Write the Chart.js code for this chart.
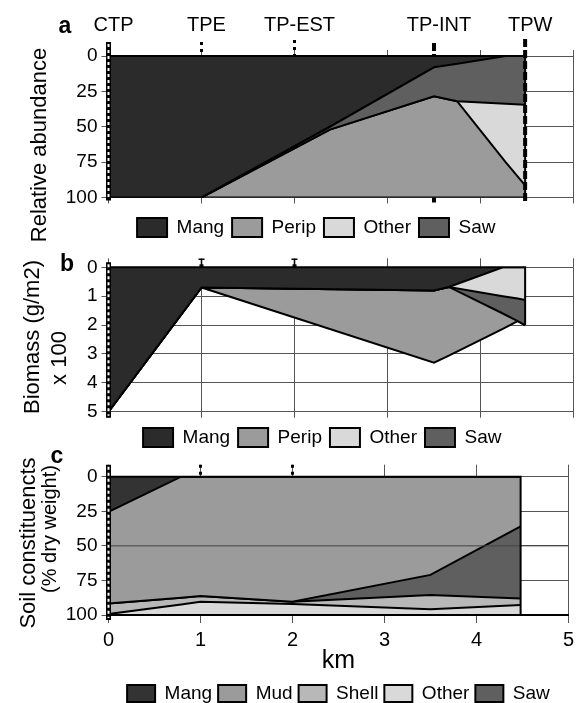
<!DOCTYPE html>
<html>
<head>
<meta charset="utf-8">
<script src="https://cdn.jsdelivr.net/npm/chart.js@4.4.0/dist/chart.umd.min.js"></script>
<style>
body { margin: 0; width: 579px; height: 703px; overflow: hidden; background: #fff; font-family: "Liberation Sans", Arial, sans-serif; }
canvas { position: absolute; left: 0; }
.lbl { position: absolute; color: #000; white-space: nowrap; transform: translate(-50%, -50%); line-height: 1; }
.rot { transform: translate(-50%, -50%) rotate(-90deg); font-size: 22px; }
.letter { font-weight: bold; font-size: 23px; }
</style>
</head>
<body>
<canvas id="chartA" width="579" height="247" style="top:0px"></canvas>
<canvas id="chartB" width="579" height="210" style="top:247px"></canvas>
<canvas id="chartC" width="579" height="256" style="top:457px"></canvas>

<div class="lbl letter" style="left:65px;top:25px">a</div>
<div class="lbl letter" style="left:67px;top:263px">b</div>
<div class="lbl letter" style="left:57px;top:455px">c</div>
<div class="lbl rot" style="left:39px;top:145px">Relative abundance</div>
<div class="lbl rot" style="left:32px;top:337px">Biomass (g/m2)</div>
<div class="lbl rot" style="left:59px;top:358px">x 100</div>
<div class="lbl rot" style="left:28px;top:543px">Soil constituencts</div>
<div class="lbl rot" style="left:49px;top:529px;font-size:20px">(% dry weight)</div>

<script>
// sites along the transect (km)
const sites = ['CTP', 'TPE', 'TP-EST', 'TP-INT', 'TPW'];
const siteKm = [0, 1, 2, 3.5, 4.48];
const kmTicks = [0, 1, 2, 3, 4, 5];
const pctTicks = [0, 25, 50, 75, 100];
const bioTicks = [0, 1, 2, 3, 4, 5];

// a - relative abundance (stacked from the top)
const kmA = [0, 1, 2.38, 3.5, 3.75, 4.27, 4.48];
const mangA = [100, 100, 50, 8, 5.5, 0, 0];
const sawA = [0, 0, 2, 20.5, 26.5, 33.7, 34.4];
const otherA = [0, 0, 0, 0, 0, 41.3, 57.1];
const peripA = [0, 0, 48, 71.5, 68, 25, 8.5];

// b - biomass (g/m2) x 100
const kmB = [0, 1, 3.5, 3.66, 4.24, 4.4, 4.48];
const mangB = [5.0, 0.7, 0.8, 0.68, 0, 0, 0];
const otherB = [0, 0, 0, 0, 1.0, 1.08, 1.13];
const sawB = [0, 0, 0, 0, 0.6, 0.78, 0.87];
const peripB = [0, 0, 2.5, 2.38, 0.53, 0, 0];

// c - soil constituents (% dry weight)
const kmC = [0, 0.79, 1, 2, 3.5, 4.48];
const mangC = [25.5, 0, 0, 0, 0, 0];
const mudC = [66.1, 87.5, 86.3, 90.4, 71, 36];
const sawC = [0, 0, 0, 0, 14.5, 52];
const shellC = [7.7, 4.9, 4.1, 1.6, 10.4, 4.8];
const otherC = [0.7, 7.6, 9.6, 8, 4.1, 7.2];

const legendA = ['Mang', 'Perip', 'Other', 'Saw'];
const legendC = ['Mang', 'Mud', 'Shell', 'Other', 'Saw'];

const colMang = '#2b2b2b';
const colPerip = '#9b9b9b';
const colOther = '#d9d9d9';
const colSaw = '#5f5f5f';
const colShell = '#b8b8b8';

Chart.defaults.font.family = '"Liberation Sans", Arial, sans-serif';
Chart.defaults.color = '#000';

function serie(label, km, vals, color, first) {
    return {
        label: label,
        data: km.map((k, i) => ({ x: k, y: vals[i] })),
        backgroundColor: color,
        borderColor: '#000',
        borderWidth: 2,
        fill: first ? 'origin' : '-1',
        pointRadius: 0,
        tension: 0,
    };
}

// site markers, area outline and a gridline that shows over the fill
const marksPlugin = {
    id: 'marks',
    afterDatasetsDraw(chart, args, opts) {
        const ctx = chart.ctx;
        const ca = chart.chartArea;
        const x = chart.scales.x;
        const y = chart.scales.y;
        ctx.save();
        (opts.gridOver || []).forEach(v => {
            ctx.strokeStyle = '#444';
            ctx.lineWidth = 1;
            ctx.beginPath();
            ctx.moveTo(ca.left, y.getPixelForValue(v));
            ctx.lineTo(ca.right, y.getPixelForValue(v));
            ctx.stroke();
        });
        const ds = chart.data.datasets;
        const last = ds[0].data.length - 1;
        const xEnd = ds[0].data[last].x;
        let total = 0;
        ds.forEach(d => { total += d.data[last].y; });
        ctx.strokeStyle = '#000';
        ctx.lineWidth = 2;
        ctx.beginPath();
        ctx.moveTo(x.getPixelForValue(0), y.getPixelForValue(0));
        ctx.lineTo(x.getPixelForValue(xEnd), y.getPixelForValue(0));
        ctx.lineTo(x.getPixelForValue(xEnd), y.getPixelForValue(total));
        ctx.stroke();
        ctx.restore();
    },
    afterDraw(chart, args, opts) {
        const ctx = chart.ctx;
        const ca = chart.chartArea;
        const x = chart.scales.x;
        const yAt = p => (p[0] === 'top' ? ca.top : ca.bottom) + p[1];
        ctx.save();
        (opts.marks || []).forEach(m => {
            const px = x.getPixelForValue(siteKm[m.site]);
            const y0 = yAt(m.from);
            const y1 = yAt(m.to);
            ctx.setLineDash([]);
            ctx.strokeStyle = '#000';
            if (m.style === 'pole') {
                ctx.lineWidth = 5;
                ctx.beginPath(); ctx.moveTo(px, y0); ctx.lineTo(px, y1); ctx.stroke();
                ctx.strokeStyle = '#fff';
                ctx.lineWidth = 2;
                ctx.setLineDash([3, 3]);
                ctx.beginPath(); ctx.moveTo(px, y0 + 2); ctx.lineTo(px, y1 - 2); ctx.stroke();
            } else if (m.style === 'cap') {
                ctx.lineWidth = 1.5;
                ctx.beginPath();
                ctx.moveTo(px, y0); ctx.lineTo(px, y1);
                ctx.moveTo(px - 3, y0); ctx.lineTo(px + 3, y0);
                ctx.stroke();
                ctx.fillStyle = '#000';
                ctx.fillRect(px - 2, y1 - 3, 4, 3);
            } else {
                ctx.lineWidth = m.style === 'dash' ? 4 : 3;
                ctx.setLineDash(m.style === 'dash' ? [8, 3] : [3, 4]);
                ctx.beginPath(); ctx.moveTo(px, y0); ctx.lineTo(px, y1); ctx.stroke();
            }
        });
        if (opts.names) {
            // site names sit a little right of their marker, as in the original
            ctx.setLineDash([]);
            ctx.fillStyle = '#000';
            ctx.font = '20px "Liberation Sans", Arial, sans-serif';
            ctx.textAlign = 'center';
            ctx.textBaseline = 'middle';
            sites.forEach((s, i) => {
                ctx.fillText(s, x.getPixelForValue(siteKm[i]) + 5, ca.top - 31);
            });
        }
        ctx.restore();
    }
};

function panelOptions(p) {
    return {
        responsive: false,
        animation: false,
        layout: { padding: { top: p.padTop, left: p.padLeft, right: 5.5, bottom: 0 } },
        plugins: {
            legend: {
                position: 'bottom',
                fullSize: p.legFull,
                labels: {
                    boxWidth: p.boxW,
                    boxHeight: p.boxH,
                    padding: p.legPad,
                    color: '#000',
                    font: { size: 19 },
                    sort: (a, b) => p.order.indexOf(a.text) - p.order.indexOf(b.text),
                },
            },
            tooltip: { enabled: false },
            marks: { marks: p.marks, names: p.names, gridOver: p.gridOver },
        },
        scales: {
            x: {
                type: 'linear',
                min: 0,
                max: 5,
                afterBuildTicks: s => { s.ticks = kmTicks.map(v => ({ value: v })); },
                afterFit: s => { s.height = p.xHeight; },
                grid: { color: '#555', lineWidth: 1, tickLength: p.tickLen },
                border: p.xBorder,
                ticks: { display: p.showKm, font: { size: 20 }, color: '#000', padding: 5, maxRotation: 0 },
                title: { display: p.showKm, text: 'km', font: { size: 25 }, color: '#000', padding: { top: 0, bottom: 2 } },
            },
            x2: {
                axis: 'x',
                type: 'linear',
                position: 'top',
                min: 0,
                max: 5,
                afterBuildTicks: s => { s.ticks = kmTicks.map(v => ({ value: v })); },
                afterFit: s => { s.height = p.topTick; },
                grid: { drawOnChartArea: false, color: '#555', tickLength: p.topTick },
                border: { display: false },
                ticks: { display: false },
            },
            y: {
                reverse: true,
                stacked: true,
                min: 0,
                max: p.yTicks[p.yTicks.length - 1],
                afterBuildTicks: s => { s.ticks = p.yTicks.map(v => ({ value: v })); },
                afterFit: s => { s.width = p.yWidth; },
                grid: { color: '#555', lineWidth: 1, tickLength: 7 },
                border: { color: '#000', width: 1.5 },
                ticks: { font: { size: 19 }, color: '#000', padding: 4 },
            },
        },
    };
}

function plotarA() {
    const data = {
        datasets: [
            serie('Mang', kmA, mangA, colMang, true),
            serie('Saw', kmA, sawA, colSaw),
            serie('Other', kmA, otherA, colOther),
            serie('Perip', kmA, peripA, colPerip),
        ],
    };
    const opts = panelOptions({
        padTop: 50, padLeft: 59, yWidth: 49.5, xHeight: 12.5, topTick: 6, tickLen: 6,
        boxW: 30, boxH: 19, legPad: 8, legFull: true, order: legendA, yTicks: pctTicks, showKm: false,
        xBorder: { color: '#555', width: 1 }, names: true,
        marks: [
            { site: 0, style: 'pole', from: ['top', -14], to: ['bottom', 3] },
            { site: 1, style: 'dot', from: ['top', -14], to: ['top', 0] },
            { site: 2, style: 'dot', from: ['top', -16], to: ['top', 0] },
            { site: 3, style: 'dash', from: ['top', -13], to: ['top', 0] },
            { site: 3, style: 'dash', from: ['bottom', 0], to: ['bottom', 5] },
            { site: 4, style: 'dash', from: ['top', -17], to: ['bottom', 5] },
        ],
    });
    new Chart(document.getElementById('chartA').getContext('2d'), { type: 'line', data, options: opts, plugins: [marksPlugin] });
}

function plotarB() {
    const data = {
        datasets: [
            serie('Mang', kmB, mangB, colMang, true),
            serie('Other', kmB, otherB, colOther),
            serie('Saw', kmB, sawB, colSaw),
            serie('Perip', kmB, peripB, colPerip),
        ],
    };
    const opts = panelOptions({
        padTop: 11.3, padLeft: 71, yWidth: 37.5, xHeight: 8.3, topTick: 9, tickLen: 6,
        boxW: 30, boxH: 19, legPad: 8, legFull: true, order: legendA, yTicks: bioTicks, showKm: false,
        xBorder: { color: '#555', width: 1 },
        marks: [
            { site: 0, style: 'pole', from: ['top', -5], to: ['bottom', 6] },
            { site: 1, style: 'cap', from: ['top', -8], to: ['top', 0] },
            { site: 2, style: 'cap', from: ['top', -8], to: ['top', 0] },
        ],
    });
    new Chart(document.getElementById('chartB').getContext('2d'), { type: 'line', data, options: opts, plugins: [marksPlugin] });
}

function plotarC() {
    const data = {
        datasets: [
            serie('Mang', kmC, mangC, '#333333', true),
            serie('Mud', kmC, mudC, colPerip),
            serie('Saw', kmC, sawC, colSaw),
            serie('Shell', kmC, shellC, colShell),
            serie('Other', kmC, otherC, colOther),
        ],
    };
    const opts = panelOptions({
        padTop: 7.7, padLeft: 65.5, yWidth: 43, xHeight: 63, topTick: 12, tickLen: 8,
        boxW: 28, boxH: 17, legPad: 6, legFull: false, order: legendC, yTicks: pctTicks, showKm: true,
        xBorder: { color: '#000', width: 2 }, gridOver: [50],
        marks: [
            { site: 0, style: 'pole', from: ['top', -12], to: ['bottom', 5] },
            { site: 1, style: 'dot', from: ['top', -12], to: ['top', 0] },
            { site: 2, style: 'dot', from: ['top', -12], to: ['top', 0] },
        ],
    });
    new Chart(document.getElementById('chartC').getContext('2d'), { type: 'line', data, options: opts, plugins: [marksPlugin] });
}

plotarA();
plotarB();
plotarC();
</script>
</body>
</html>
